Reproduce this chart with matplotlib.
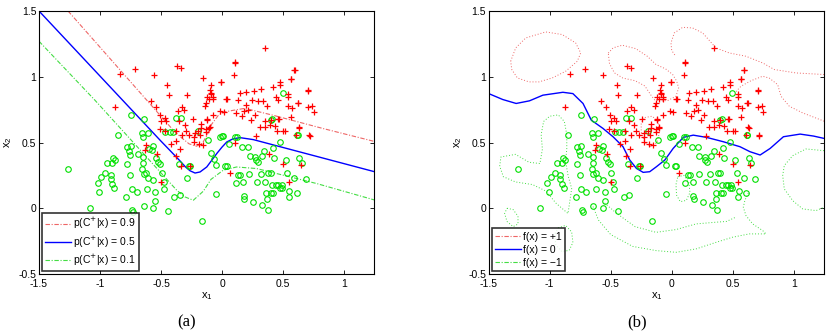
import numpy as np
import matplotlib.pyplot as plt
from matplotlib.lines import Line2D

plt.rcParams['font.family'] = ['Liberation Sans', 'DejaVu Sans']
plt.rcParams['axes.unicode_minus'] = False

# ---- scatter data (same points in both panels) ----
red_x = [-0.874, -0.834, -0.711, -0.561, -0.369, -0.336, -0.451, -0.438, -0.287, -0.582,
         -0.541, -0.364, -0.330, -0.310, -0.508, -0.470, -0.500, -0.460, -0.510, -0.470,
         -0.380, -0.350, -0.306, -0.240, -0.270, -0.330, -0.230, -0.180, -0.380, -0.153,
         -0.096, -0.090, -0.104, -0.071, -0.131, -0.137, -0.008, 0.107, 0.101, 0.350,
         -0.420, -0.344, -0.374, -0.339, -0.533, -0.620, -0.628, -0.497, -0.227, -0.188,
         -0.156, -0.172, -0.170, -0.107, -0.131, -0.123, -0.016, 0.033, -0.224, -0.292,
         0.109, 0.595, 0.568, 0.478, 0.478, -0.006, -0.088, -0.088, -0.075, -0.120,
         0.041, 0.144, 0.200, 0.262, 0.322, 0.418, 0.445, 0.460, 0.541, 0.705,
         0.623, 0.576, 0.705, 0.740, 0.751, 0.246, 0.294, 0.335, 0.371, 0.131,
         0.200, 0.180, 0.213, 0.117, 0.013, -0.074, -0.120, -0.100, -0.130, 0.267,
         0.240, 0.349, 0.390, 0.459, 0.568, 0.308, 0.349, 0.431, 0.450, 0.500,
         0.520, 0.631, 0.400, 0.281, 0.718, 0.609, 0.107, 0.063, 0.385, 0.503,
         0.546, 0.645, 0.628, 0.716, 0.470, 0.708, 0.590, 0.566, 0.620, 0.541,
         -0.260, -0.198, 0.160, 0.540]
red_y = [0.770, 1.020, 1.060, 1.010, 1.080, 1.067, 0.935, 0.859, 0.859, 0.814,
         0.768, 0.738, 0.770, 0.745, 0.707, 0.690, 0.660, 0.660, 0.600, 0.590,
         0.590, 0.660, 0.635, 0.680, 0.560, 0.560, 0.540, 0.560, 0.510, 0.990,
         0.900, 0.870, 0.830, 0.830, 0.800, 0.780, 0.960, 1.110, 1.010, 1.215,
         0.490, 0.450, 0.400, 0.320, 0.410, 0.480, 0.440, 0.200, 0.505, 0.490,
         0.480, 0.610, 0.640, 0.610, 0.580, 0.670, 0.740, 0.830, 0.570, 0.590,
         1.105, 1.055, 0.983, 0.960, 0.940, 0.960, 0.935, 0.877, 0.847, 0.847,
         0.834, 0.877, 0.885, 0.890, 0.910, 0.925, 0.844, 0.820, 0.844, 0.895,
         0.800, 0.763, 0.768, 0.776, 0.733, 0.826, 0.813, 0.813, 0.781, 0.826,
         0.788, 0.738, 0.745, 0.725, 0.733, 0.712, 0.680, 0.620, 0.600, 0.707,
         0.674, 0.667, 0.636, 0.682, 0.692, 0.617, 0.617, 0.624, 0.585, 0.590,
         0.585, 0.611, 0.670, 0.548, 0.548, 0.560, 0.500, 0.270, 0.410, 0.340,
         0.200, 0.330, 0.620, 0.560, 0.680, 0.900, 1.050, 0.980, 0.800, 0.780,
         0.320, 0.590, 0.700, 0.870]

green_x = [-1.262, -1.082, -1.008, -1.019, -0.992, -0.959, -0.940, -0.899, -0.890, -0.877,
           -0.913, -0.913, -0.899, -0.885, -0.852, -0.784, -0.779, -0.779, -0.760, -0.752,
           -0.744, -0.743, -0.752, -0.741, -0.738, -0.730, -0.700, -0.690, -0.640, -0.653,
           -0.645, -0.607, -0.648, -0.645, -0.653, -0.642, -0.623, -0.607, -0.618, -0.642,
           -0.598, -0.566, -0.546, -0.550, -0.563, -0.538, -0.522, -0.508, -0.495, -0.478,
           -0.473, -0.440, -0.393, -0.347, -0.355, -0.464, -0.430, -0.400, -0.374, -0.336,
           -0.287, -0.268, -0.115, -0.090, -0.063, -0.049, -0.049, -0.164, -0.016, 0.008,
           0.025, 0.038, 0.104, 0.112, 0.134, 0.150, 0.167, 0.175, 0.178, 0.180,
           0.057, 0.213, 0.221, 0.227, 0.254, 0.270, 0.276, 0.284, 0.292, 0.317,
           0.325, 0.344, 0.328, 0.355, 0.363, 0.366, 0.374, 0.380, 0.399, 0.401,
           0.412, 0.418, 0.418, 0.429, 0.410, 0.443, 0.462, 0.475, 0.489, 0.492,
           0.497, 0.478, 0.522, 0.535, 0.546, 0.552, 0.590, 0.615, 0.612, 0.631,
           0.653, 0.686, -0.563, -0.574, -0.260, 0.000, 0.121, -0.198, 0.400, 0.620]
green_y = [0.295, 0.000, 0.120, 0.190, 0.235, 0.265, 0.346, 0.346, 0.384, 0.370,
           0.250, 0.220, 0.184, 0.154, 0.555, 0.088, 0.333, 0.467, 0.434, 0.406,
           0.475, 0.707, 0.250, 0.144, -0.013, -0.030, 0.120, 0.410, 0.680, 0.570,
           0.540, 0.570, 0.390, 0.346, 0.300, 0.260, 0.270, 0.230, 0.150, 0.020,
           0.450, 0.000, 0.055, 0.126, 0.215, 0.380, 0.354, 0.336, 0.265, 0.200,
           0.146, -0.020, 0.088, 0.100, 0.338, 0.580, 0.580, 0.580, 0.690, 0.690,
           0.227, 0.320, 0.520, 0.417, 0.374, 0.330, 0.106, -0.100, 0.543, 0.550,
           0.320, 0.320, 0.543, 0.190, 0.250, 0.250, 0.467, 0.200, 0.093, 0.068,
           0.490, 0.467, 0.260, 0.400, 0.050, 0.390, 0.366, 0.200, 0.350, 0.258,
           0.396, 0.434, 0.025, 0.200, 0.114, 0.068, -0.015, 0.270, 0.270, 0.119,
           0.177, 0.119, 0.462, 0.386, 0.680, 0.180, 0.174, 0.154, 0.180, 0.154,
           0.876, 0.505, 0.366, 0.265, 0.088, 0.128, 0.232, 0.555, 0.116, 0.386,
           0.346, 0.222, 0.470, 0.440, 0.320, 0.550, 0.540, 0.590, 0.670, 0.560]

# ---- panel (a): probability contours ----
p50_x = [-1.5, -0.508, -0.344, -0.300, -0.262, -0.221, -0.180, -0.125, -0.080, -0.043,
         0.000, 0.039, 0.090, 0.148, 0.257, 1.25]
p50_y = [1.5, 0.518, 0.360, 0.315, 0.285, 0.268, 0.276, 0.314, 0.370, 0.416,
         0.465, 0.504, 0.528, 0.537, 0.522, 0.278]
p90_x = [-1.262, -0.399, -0.330, -0.270, -0.210, -0.160, -0.120, -0.084, -0.030, 0.025,
         0.093, 0.175, 0.230, 0.420, 0.830, 1.25]
p90_y = [1.5, 0.593, 0.535, 0.490, 0.472, 0.495, 0.560, 0.640, 0.707, 0.733,
         0.745, 0.758, 0.750, 0.707, 0.606, 0.508]
p10_x = [-1.5, -1.041, -0.371, -0.303, -0.235, -0.153, -0.090, 0.011, 0.120, 0.284,
         0.776, 1.25]
p10_y = [1.27, 0.821, 0.137, 0.086, 0.061, 0.130, 0.220, 0.290, 0.314, 0.302,
         0.188, 0.063]

# ---- panel (b): decision function contours ----
f0_x = [-1.5, -1.385, -1.275, -1.166, -1.056, -0.892, -0.810, -0.727, -0.659, -0.563,
        -0.481, -0.399, -0.344, -0.289, -0.234, -0.180, -0.125, -0.056, 0.012, 0.095,
        0.177, 0.286, 0.423, 0.560, 0.642, 0.725, 0.807, 0.916, 1.053, 1.163, 1.25]
f0_y = [0.872, 0.827, 0.797, 0.817, 0.860, 0.882, 0.872, 0.797, 0.670, 0.607,
        0.544, 0.468, 0.367, 0.303, 0.273, 0.278, 0.316, 0.367, 0.455, 0.539,
        0.556, 0.539, 0.506, 0.468, 0.430, 0.405, 0.455, 0.544, 0.564, 0.549, 0.531]

fp1_loop1_x = [-1.320, -1.279, -1.197, -1.033, -0.897, -0.787, -0.746, -0.774, -0.869, -0.979,
               -1.088, -1.170, -1.265, -1.311, -1.320]
fp1_loop1_y = [1.118, 1.219, 1.295, 1.341, 1.321, 1.257, 1.181, 1.118, 1.042, 0.991,
               0.961, 0.961, 0.991, 1.055, 1.118]
fp1_loop2_x = [-0.520, -0.480, -0.405, -0.295, -0.200, -0.129, -0.050, 0.008, 0.041, 0.057,
               0.035, -0.030, -0.130, -0.170, -0.220, -0.300, -0.400, -0.470, -0.510, -0.520]
fp1_loop2_y = [1.180, 1.220, 1.240, 1.214, 1.156, 1.093, 1.060, 1.017, 0.966, 0.915,
               0.852, 0.820, 0.812, 0.860, 0.930, 0.970, 0.990, 1.030, 1.100, 1.180]
fp1_loop3_x = [-0.220, -0.160, -0.110, -0.100, -0.120, -0.170, -0.220, -0.250, -0.250, -0.220]
fp1_loop3_y = [0.690, 0.700, 0.660, 0.580, 0.500, 0.470, 0.500, 0.580, 0.650, 0.690]
fp1_top_x = [1.25, 1.020, 0.841, 0.746, 0.609, 0.472, 0.363, 0.254, 0.172, 0.090,
             0.021, -0.006, 0.000, 0.030]
fp1_top_y = [1.017, 1.029, 1.055, 1.105, 1.156, 1.181, 1.219, 1.333, 1.371, 1.376,
             1.333, 1.257, 1.200, 1.160]
fp1_low_x = [1.25, 1.074, 0.964, 0.896, 0.869, 0.800, 0.746, 0.650, 0.568, 0.520]
fp1_low_y = [0.662, 0.725, 0.776, 0.852, 0.940, 0.990, 1.004, 0.970, 0.928, 0.880]

fm1_big_x = [-1.050, -1.000, -0.930, -0.880, -0.860, -0.860, -0.870, -0.850, -0.820, -0.850,
             -0.950, -1.030, -1.140, -1.280, -1.380, -1.410, -1.400, -1.280, -1.170, -1.080,
             -1.060, -1.070, -1.050]
fm1_big_y = [0.660, 0.700, 0.710, 0.660, 0.560, 0.450, 0.360, 0.250, 0.150, -0.040,
             0.040, 0.130, 0.180, 0.200, 0.240, 0.320, 0.390, 0.410, 0.350, 0.340,
             0.450, 0.560, 0.660]
fm1_small_x = [-1.35, -1.30, -1.26, -1.26, -1.30, -1.35, -1.37, -1.35]
fm1_small_y = [0.00, -0.01, -0.06, -0.12, -0.14, -0.10, -0.04, 0.00]
fm1_low_x = [-0.93, -0.87, -0.82, -0.81, -0.84, -0.90, -0.95, -0.96, -0.93]
fm1_low_y = [-0.15, -0.13, -0.18, -0.26, -0.32, -0.33, -0.28, -0.20, -0.15]
fm1_tongue_x = [-0.645, -0.600, -0.500, -0.320, -0.128, 0.036, 0.200, 0.364, 0.500, 0.636,
                0.773, 0.746, 0.664, 0.609, 0.587, 0.600, 0.630]
fm1_tongue_y = [0.013, -0.090, -0.200, -0.290, -0.322, -0.335, -0.309, -0.259, -0.220, -0.195,
                -0.195, -0.170, -0.119, -0.056, 0.008, 0.060, 0.120]
fm1_inner_x = [-0.550, -0.450, -0.300, -0.128, 0.036, 0.200, 0.364, 0.450, 0.520]
fm1_inner_y = [0.040, -0.040, -0.140, -0.183, -0.162, -0.119, -0.106, -0.100, -0.070]
fm1_dot_x = [0.05, 0.10, 0.14, 0.15, 0.12, 0.07, 0.04, 0.035, 0.05]
fm1_dot_y = [0.24, 0.25, 0.20, 0.12, 0.06, 0.05, 0.10, 0.18, 0.24]
fm1_right_x = [1.249, 1.101, 0.992, 0.923, 0.910, 0.923, 0.992, 1.074, 1.183, 1.249]
fm1_right_y = [0.438, 0.451, 0.400, 0.325, 0.249, 0.147, 0.058, -0.005, -0.018, 0.008]

RED_LINE = '#ee6666'
GREEN_LINE = '#44dd44'
RED_PT = '#ff0000'
GREEN_PT = '#00e000'
DASHDOT = (0, (4, 1.5, 1, 1.5))
DOTS = (0, (1, 2))


def style_axes(ax):
    ax.set_xlim(-1.5, 1.25)
    ax.set_ylim(-0.5, 1.5)
    ax.set_xticks([-1.5, -1, -0.5, 0, 0.5, 1])
    ax.set_xticklabels(['-1.5', '-1', '-0.5', '0', '0.5', '1'])
    ax.set_yticks([-0.5, 0, 0.5, 1, 1.5])
    ax.set_yticklabels(['-0.5', '0', '0.5', '1', '1.5'])
    ax.tick_params(direction='in', top=True, right=True, length=3, width=0.6,
                   labelsize=7.5)
    ax.tick_params(axis='x', pad=3.5)
    ax.tick_params(axis='y', pad=2)
    for s in ax.spines.values():
        s.set_linewidth(0.8)
    ax.set_xlabel(r'$\mathregular{x_1}$', fontsize=8, labelpad=1)
    ax.set_ylabel(r'$\mathregular{x_2}$', fontsize=8, labelpad=3)


def draw_points(ax):
    ax.plot(green_x, green_y, 'o', mfc='none', mec=GREEN_PT, ms=4, mew=0.8, zorder=3)
    ax.plot(red_x, red_y, '+', color=RED_PT, ms=4.5, mew=0.9, zorder=3)


fig = plt.figure(figsize=(8.32, 3.36), dpi=100)
ax1 = fig.add_axes([0.0469, 0.1845, 0.4032, 0.7827])
ax2 = fig.add_axes([0.5874, 0.1845, 0.4032, 0.7827])

# panel (a)
draw_points(ax1)
ax1.plot(p90_x, p90_y, color=RED_LINE, lw=0.8, ls=DASHDOT, zorder=2)
ax1.plot(p50_x, p50_y, color='#0000ff', lw=1.0, zorder=2)
ax1.plot(p10_x, p10_y, color=GREEN_LINE, lw=0.8, ls=DASHDOT, zorder=2)
style_axes(ax1)
h1 = [Line2D([], [], color=RED_LINE, lw=0.8, ls=DASHDOT),
      Line2D([], [], color='#0000ff', lw=1.0),
      Line2D([], [], color=GREEN_LINE, lw=0.8, ls=DASHDOT)]
leg1 = ax1.legend(h1, ['p(C$^{+}$|x) = 0.9', 'p(C$^{+}$|x) = 0.5', 'p(C$^{+}$|x) = 0.1'],
                  loc='lower left', fontsize=7.5, frameon=True, fancybox=False,
                  borderaxespad=0.3, handlelength=2.5, handletextpad=0.2,
                  labelspacing=0.3, borderpad=0.3)
leg1.get_frame().set_edgecolor('black')
leg1.get_frame().set_linewidth(1.2)

# panel (b)
draw_points(ax2)
for cx, cy in [(fp1_loop1_x, fp1_loop1_y), (fp1_loop2_x, fp1_loop2_y),
               (fp1_loop3_x, fp1_loop3_y), (fp1_top_x, fp1_top_y), (fp1_low_x, fp1_low_y)]:
    ax2.plot(cx, cy, color=RED_LINE, lw=0.7, ls=DOTS, zorder=2)
for cx, cy in [(fm1_big_x, fm1_big_y), (fm1_small_x, fm1_small_y), (fm1_low_x, fm1_low_y),
               (fm1_tongue_x, fm1_tongue_y), (fm1_inner_x, fm1_inner_y),
               (fm1_dot_x, fm1_dot_y), (fm1_right_x, fm1_right_y)]:
    ax2.plot(cx, cy, color=GREEN_LINE, lw=0.7, ls=DOTS, zorder=2)
ax2.plot(f0_x, f0_y, color='#0000ff', lw=1.0, zorder=2)
style_axes(ax2)
h2 = [Line2D([], [], color=RED_LINE, lw=0.8, ls=DASHDOT),
      Line2D([], [], color='#0000ff', lw=1.0),
      Line2D([], [], color=GREEN_LINE, lw=0.8, ls=DASHDOT)]
leg2 = ax2.legend(h2, ['f(x) = +1', 'f(x) = 0', 'f(x) = \u22121'],
                  loc='lower left', fontsize=7.5, frameon=True, fancybox=False,
                  borderaxespad=0.3, handlelength=2.5, handletextpad=0.2,
                  labelspacing=0.3, borderpad=0.3)
leg2.get_frame().set_edgecolor('black')
leg2.get_frame().set_linewidth(1.2)

fig.text(187 / 832, 1 - 322 / 336, '(a)', family='Liberation Serif', fontsize=12,
         ha='center', va='center')
fig.text(637 / 832, 1 - 322 / 336, '(b)', family='Liberation Serif', fontsize=12,
         ha='center', va='center')

fig.savefig('out.png', dpi=100)
